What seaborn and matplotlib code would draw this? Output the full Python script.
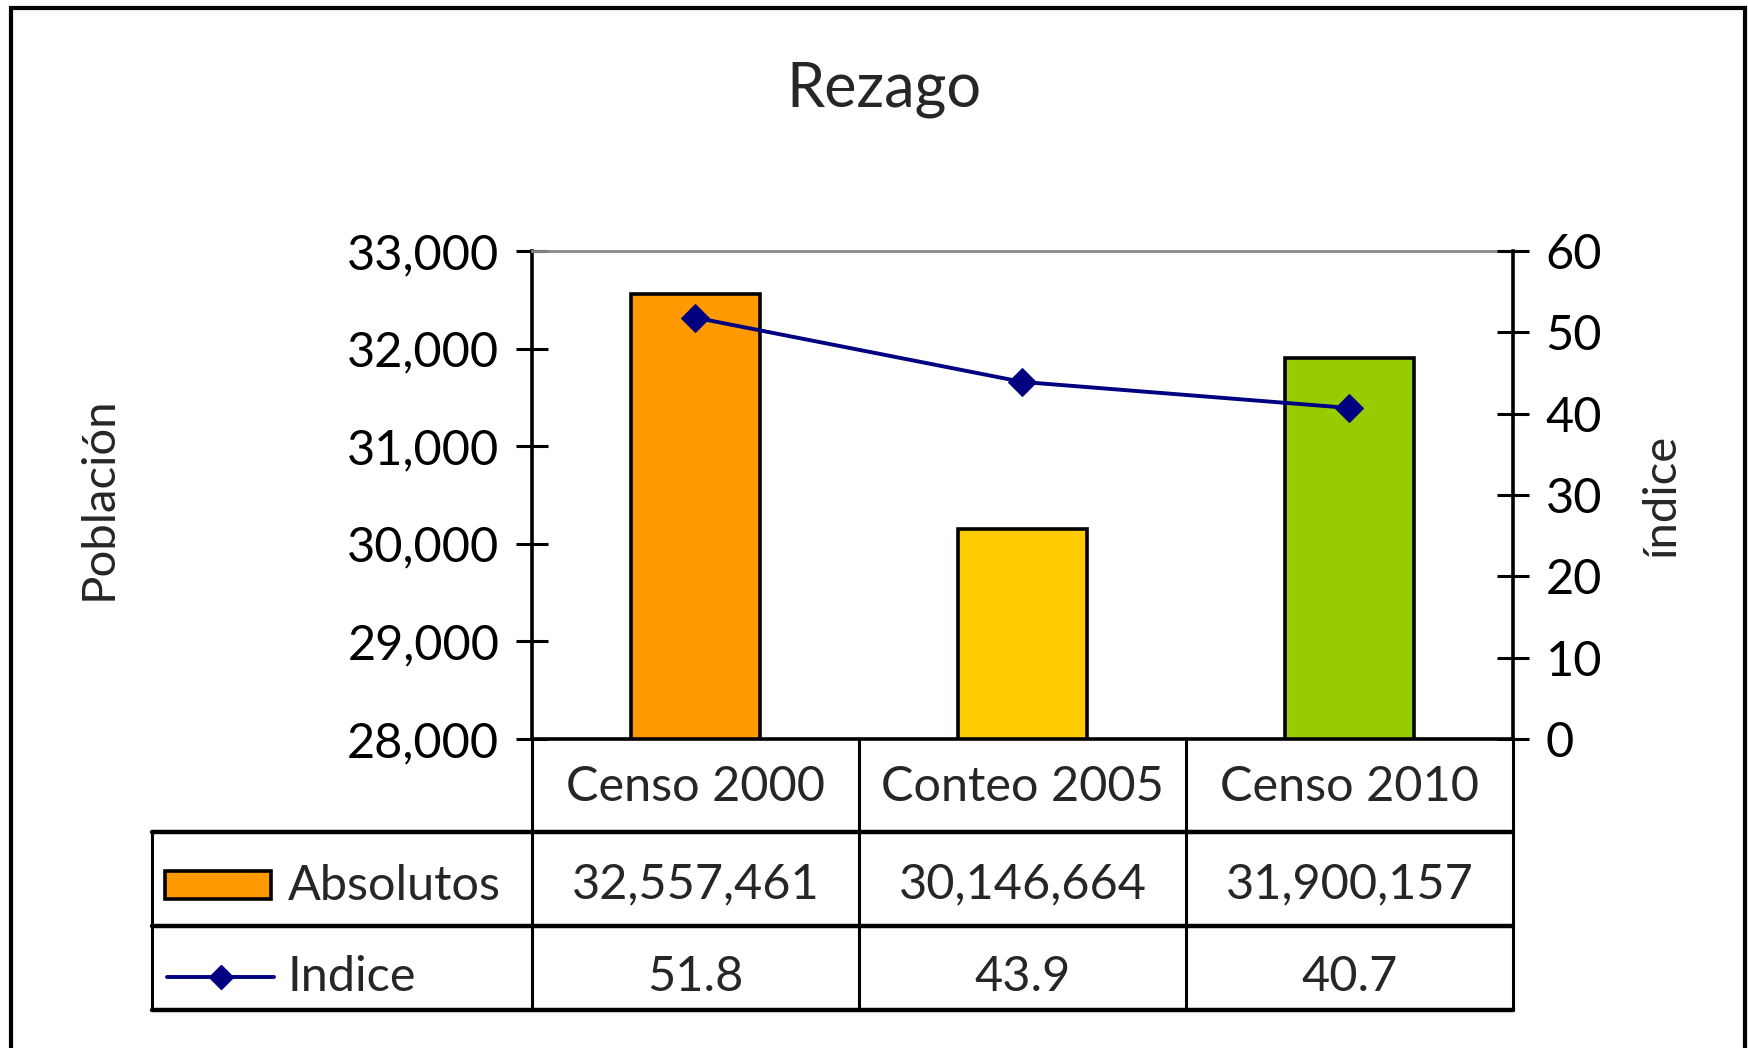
import numpy as np
import pandas as pd
import matplotlib
matplotlib.use("Agg")
import matplotlib.pyplot as plt
from matplotlib.patches import Rectangle
from matplotlib.lines import Line2D
from matplotlib.ticker import FuncFormatter
import seaborn as sns

# ---- data ----
categories = ["Censo 2000", "Conteo 2005", "Censo 2010"]
absolutos = [32557461, 30146664, 31900157]
indice = [51.8, 43.9, 40.7]
bar_colors = ["#FF9900", "#FFCC00", "#99CC00"]
line_color = "#000080"
title = "Rezago"
left_label = "Población"
right_label = "índice"
row_labels = ["Absolutos", "Indice"]

sns.set_style("white")
plt.rcParams["font.family"] = ["Lato", "DejaVu Sans"]

W, H = 1749, 1048
fig = plt.figure(figsize=(W / 100, H / 100), dpi=100)

# axes geometry (pixels)
L, R, T, B = 532, 1513, 251, 739
ax = fig.add_axes([L / W, 1 - B / H, (R - L) / W, (B - T) / H])

df = pd.DataFrame({"cat": categories, "val": np.array(absolutos) / 1000.0})
sns.barplot(data=df, x="cat", y="val", hue="cat", palette=bar_colors,
            legend=False, width=0.395, edgecolor="black", linewidth=2.6,
            saturation=1, ax=ax)
ax.set_ylim(28000, 33000)
ax.set_xlim(-0.5, len(categories) - 0.5)
ax.set_yticks(np.arange(28000, 33001, 1000))
ax.yaxis.set_major_formatter(FuncFormatter(lambda v, p: f"{v:,.0f}"))
ax.tick_params(axis="x", bottom=False, labelbottom=False)
ax.tick_params(axis="y", direction="inout", length=23, width=2.2,
               labelsize=35, pad=12, colors="black")
ax.set_xlabel("")
ax.set_ylabel(left_label, fontsize=34)
ax.yaxis.set_label_coords((120 - L) / (R - L), (B - 498) / (B - T))
for s in ["left", "bottom"]:
    ax.spines[s].set_color("black")
    ax.spines[s].set_linewidth(2.6)
ax.spines["top"].set_color("#888888")
ax.spines["top"].set_linewidth(2.0)
ax.spines["right"].set_visible(False)

ax2 = ax.twinx()
ldf = pd.DataFrame({"x": np.arange(len(categories)), "y": indice})
sns.lineplot(data=ldf, x="x", y="y", ax=ax2, color=line_color, linewidth=2.8,
             marker="D", markersize=14, markeredgecolor=line_color)
ax2.set_ylim(0, 60)
ax2.set_yticks(np.arange(0, 61, 10))
ax2.tick_params(axis="y", direction="inout", length=23, width=2.2,
                labelsize=35, pad=12, colors="black")
ax2.tick_params(axis="x", bottom=False, labelbottom=False)
ax2.set_xlabel("")
ax2.set_ylabel(right_label, fontsize=34)
ax2.yaxis.set_label_coords((1640 - L) / (R - L), (B - 494) / (B - T))
for s in ["left", "top", "bottom"]:
    ax2.spines[s].set_visible(False)
ax2.spines["right"].set_color("black")
ax2.spines["right"].set_linewidth(2.6)

# ---- title ----
fig.text(884 / W, 1 - 89 / H, title, ha="center", va="center", fontsize=44)

# ---- data table ----
AH = B - T
def ay(px):
    return -(px - B) / AH
def axx(px):
    return (px - L) / (R - L)

tA = ax.transAxes
xt = ax.get_xaxis_transform()
tbl_left = axx(152)
y1, y2, y3 = ay(832), ay(926), ay(1010)
for yy in [y1, y2, y3]:
    ax.add_line(Line2D([tbl_left, 1], [yy, yy], transform=tA, color="black",
                       lw=3.2, clip_on=False))
for xx in [0, 1 / 3, 2 / 3, 1]:
    ax.add_line(Line2D([xx, xx], [0, y3], transform=tA, color="black",
                       lw=2.2, clip_on=False))
ax.add_line(Line2D([tbl_left, tbl_left], [y1, y3], transform=tA, color="black",
                   lw=2.2, clip_on=False))

for i, c in enumerate(categories):
    ax.text(i, ay(787), c, transform=xt, ha="center", va="center",
            fontsize=35, clip_on=False)
    ax.text(i, ay(884), f"{absolutos[i]:,}", transform=xt, ha="center",
            va="center", fontsize=35, clip_on=False)
    ax.text(i, ay(977), f"{indice[i]:.1f}", transform=xt, ha="center",
            va="center", fontsize=35, clip_on=False)

# legend keys
ax.add_patch(Rectangle((axx(165), ay(899)), axx(271) - axx(165),
                       ay(871) - ay(899), transform=tA, facecolor=bar_colors[0],
                       edgecolor="black", lw=2.6, clip_on=False))
ax.add_line(Line2D([axx(167), axx(274)], [ay(977), ay(977)], transform=tA,
                   color=line_color, lw=2.8, clip_on=False))
ax.add_line(Line2D([axx(221)], [ay(977)], transform=tA, color=line_color,
                   marker="D", markersize=12, clip_on=False))
ax.text(axx(288), ay(886), row_labels[0], transform=tA, ha="left",
        va="center", fontsize=35, clip_on=False)
ax.text(axx(288), ay(977), row_labels[1], transform=tA, ha="left",
        va="center", fontsize=35, clip_on=False)

# ---- outer border ----
fig.patches.append(Rectangle((11 / W, -0.02), (1745 - 11) / W, 1.02 - 8 / H,
                             transform=fig.transFigure, fill=False,
                             edgecolor="black", lw=3.0))

fig.savefig("out.png", dpi=100, facecolor="white")
